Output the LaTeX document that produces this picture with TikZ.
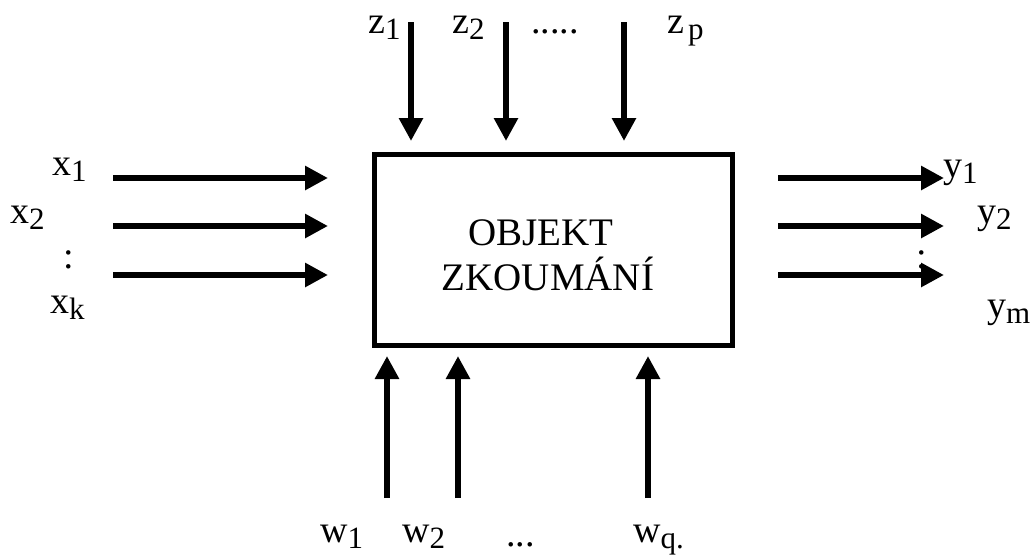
\documentclass[tikz,border=0pt]{standalone}
\usepackage{fontspec}
\setmainfont{Liberation Serif}
\usetikzlibrary{arrows.meta}
\newcommand\lsub[1]{\raisebox{-6pt}{\fontsize{31}{31}\selectfont #1}}
\begin{document}
\begin{tikzpicture}[x=1pt,y=-1pt,
  arr/.style={line width=6.5pt,-{Triangle[length=23pt,width=23pt]}},
  lbl/.style={anchor=base west,inner sep=0pt,font=\fontsize{38}{40}\selectfont},
  boxtxt/.style={anchor=base,inner sep=0pt,font=\fontsize{39}{42}\selectfont}]
\useasboundingbox (0,0) rectangle (1032,555);
\node[draw,line width=5.5pt,rectangle,inner sep=0pt,minimum width=358pt,minimum height=191pt] (box) at (553.5,250) {};
\node[boxtxt] (t1) at (541,245) {OBJEKT};
\node[boxtxt] (t2) at (548,290) {ZKOUMÁNÍ};
% left inputs
\coordinate (xa0) at (113,178); \coordinate (xa1) at (328,178);
\coordinate (xb0) at (113,226); \coordinate (xb1) at (328,226);
\coordinate (xc0) at (113,275); \coordinate (xc1) at (328,275);
\draw[arr] (xa0) -- (xa1);
\draw[arr] (xb0) -- (xb1);
\draw[arr] (xc0) -- (xc1);
\node[lbl] (lx1) at (52,175) {x\lsub{1}};
\node[lbl] (lx2) at (10,223) {x\lsub{2}};
\node[lbl] (lxd) at (63,268) {:};
\node[lbl] (lxk) at (50,313) {x\lsub{k}};
% right outputs
\coordinate (ya0) at (778,178); \coordinate (ya1) at (944,178);
\coordinate (yb0) at (778,226); \coordinate (yb1) at (944,226);
\coordinate (yc0) at (778,275); \coordinate (yc1) at (944,275);
\draw[arr] (ya0) -- (ya1);
\draw[arr] (yb0) -- (yb1);
\draw[arr] (yc0) -- (yc1);
\node[lbl] (ly1) at (943,177) {y\lsub{1}};
\node[lbl] (ly2) at (977,223) {y\lsub{2}};
\node[lbl] (lyd) at (916,268) {:};
\node[lbl] (lym) at (987,317) {y\lsub{m}};
% top
\coordinate (za0) at (411,22); \coordinate (za1) at (411,141);
\coordinate (zb0) at (506,22); \coordinate (zb1) at (506,141);
\coordinate (zc0) at (624,22); \coordinate (zc1) at (624,141);
\draw[arr] (za0) -- (za1);
\draw[arr] (zb0) -- (zb1);
\draw[arr] (zc0) -- (zc1);
\node[lbl] (lz1) at (368,33) {z\lsub{1}};
\node[lbl] (lz2) at (452,33) {z\lsub{2}};
\node[lbl] (lzd) at (531,33) {.....};
\node[lbl] (lzp) at (667,33) {z\hspace{4pt}\lsub{p}};
% bottom
\coordinate (wa0) at (387,498); \coordinate (wa1) at (387,356);
\coordinate (wb0) at (458,498); \coordinate (wb1) at (458,356);
\coordinate (wc0) at (648,498); \coordinate (wc1) at (648,356);
\draw[arr] (wa0) -- (wa1);
\draw[arr] (wb0) -- (wb1);
\draw[arr] (wc0) -- (wc1);
\node[lbl] (lw1) at (320,542) {w\lsub{1}};
\node[lbl] (lw2) at (402,542) {w\lsub{2}};
\node[lbl] (lwd) at (506,546) {...};
\node[lbl] (lwq) at (633,542) {w\lsub{q.}};
\end{tikzpicture}
\end{document}
